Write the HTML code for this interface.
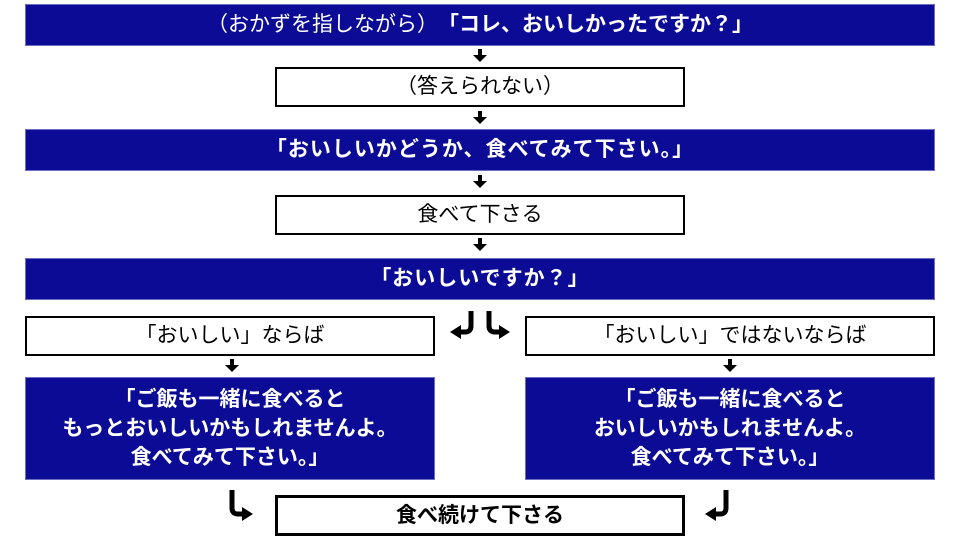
<!DOCTYPE html>
<html><head><meta charset="utf-8"><style>
body{margin:0;width:960px;height:540px;background:#fff;position:relative;overflow:hidden;font-family:"Liberation Sans","Noto Sans CJK JP",sans-serif}
.b{position:absolute;box-sizing:border-box;display:flex;align-items:center;justify-content:center;text-align:center;font-size:21px;line-height:26px}
.n{background:#0b0b96;color:#fff;border:1px solid #6c6cc0}
.w{background:#fff;color:#000;border:2px solid #000}
.bold{font-weight:bold}
svg{position:absolute;left:0;top:0}
</style></head><body>
<div class="b n" style="left:25px;top:4px;width:910px;height:42px">（おかずを指しながら）<b>「コレ、おいしかったですか？」</b></div>
<div class="b w" style="left:275px;top:67px;width:410px;height:40px">（答えられない）</div>
<div class="b n bold" style="left:25px;top:129px;width:910px;height:42px;letter-spacing:1px">「おいしいかどうか、食べてみて下さい。」</div>
<div class="b w" style="left:275px;top:195px;width:410px;height:40px">食べて下さる</div>
<div class="b n bold" style="left:25px;top:258px;width:910px;height:42px;letter-spacing:1px">「おいしいですか？」</div>
<div class="b w" style="left:25px;top:316px;width:410px;height:40px">「おいしい」ならば</div>
<div class="b w" style="left:525px;top:316px;width:410px;height:40px">「おいしい」ではないならば</div>
<div class="b n bold" style="left:25px;top:377px;width:410px;height:103px;line-height:29px">「ご飯も一緒に食べると<br>もっとおいしいかもしれませんよ。<br>食べてみて下さい。」</div>
<div class="b n bold" style="left:525px;top:377px;width:410px;height:103px;line-height:29px">「ご飯も一緒に食べると<br>おいしいかもしれませんよ。<br>食べてみて下さい。」</div>
<div class="b w bold" style="left:275px;top:495px;width:410px;height:41px;border-width:3px">食べ続けて下さる</div>
<svg width="960" height="540">
<g fill="#000">
<g id="da"><rect x="478" y="49" width="4" height="6"/><polygon points="473,55 487,55 480,62"/></g>
<use href="#da" y="62"/>
<use href="#da" y="126"/>
<use href="#da" y="189"/>
<use href="#da" x="-248" y="310"/>
<use href="#da" x="250" y="310"/>
</g>
<g fill="none" stroke="#000" stroke-width="5">
<path d="M471,311 V326 Q471,332 465,332 H460"/>
<path d="M489,311 V326 Q489,332 495,332 H500"/>
<path d="M232,490 V508 Q232,514 238,514 H243"/>
<path d="M726,490 V508 Q726,514 720,514 H715"/>
</g>
<g fill="#000">
<polygon points="450,332 461,325 461,339"/>
<polygon points="510,332 499,325 499,339"/>
<polygon points="253,514 242,507 242,521"/>
<polygon points="705,514 716,507 716,521"/>
</g>
</svg>
</body></html>
